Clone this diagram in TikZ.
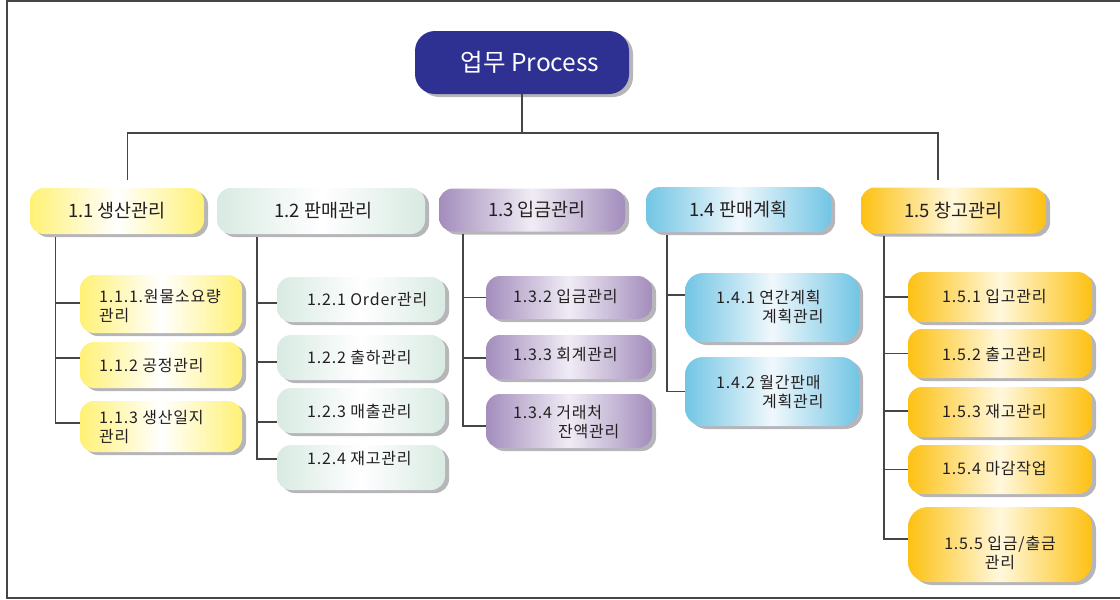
\documentclass[tikz,border=0pt]{standalone}
\usepackage{fontspec}
\setmainfont{Noto Sans CJK KR}
\newfontfamily\krtwo[LetterSpace=5]{Noto Sans CJK KR}
\usetikzlibrary{shadows}
\definecolor{rootblue}{HTML}{2E3192}
\definecolor{yel}{HTML}{FFF175}
\definecolor{grn}{HTML}{D8EAE2}
\definecolor{pur}{HTML}{A38DBC}
\definecolor{purmid}{HTML}{F0ECF5}
\definecolor{blu}{HTML}{72C5E4}
\definecolor{blumid}{HTML}{F0F8FC}
\definecolor{org}{HTML}{FDC113}
\definecolor{orgmid}{HTML}{FFF8DC}
\definecolor{shadowgray}{HTML}{B5B5BA}
\definecolor{linegray}{HTML}{454545}
\definecolor{txtc}{HTML}{231F20}
\tikzset{
  conn/.style={draw=linegray, line width=1.3pt},
  frameline/.style={draw=linegray, line width=1.5pt},
  boxbase/.style={rectangle, rounded corners=14pt, inner sep=0pt,
    drop shadow={shadow xshift=4pt, shadow yshift=-3pt, fill=shadowgray, opacity=1}},
  rootbox/.style={boxbase, rounded corners=20pt, fill=rootblue, text=white,
    font=\fontsize{24.5}{28}\selectfont, minimum width=214pt, minimum height=63pt},
  byel/.style={boxbase, left color=yel, right color=yel, middle color=white},
  bgrn/.style={boxbase, left color=grn, right color=grn, middle color=white},
  bpur/.style={boxbase, left color=pur, right color=pur, middle color=purmid},
  bblu/.style={boxbase, left color=blu, right color=blu, middle color=blumid},
  borg/.style={boxbase, left color=org, right color=org, middle color=orgmid},
  lvone/.style={font=\fontsize{18.5}{21}\selectfont, text=txtc, minimum height=46pt},
  lvtwo/.style={font=\krtwo\fontsize{16}{19}\selectfont, text=txtc, align=left, inner sep=0pt},
}
\begin{document}
\begin{tikzpicture}[x=1pt, y=-1pt]
\useasboundingbox (0,0) rectangle (1120,600);
% frame
\draw[frameline] (1121,1) -- (7,1) -- (7,598) -- (1121,598);

% root
\node[rootbox] (root) at (522,62.5) {\hspace*{16pt}업무 Process};

% level 1
\node[byel, lvone, minimum width=174pt] (n11) at (117,211) {1.1 생산관리};
\node[bgrn, lvone, minimum width=208pt] (n12) at (321,211) {\hspace*{5pt}1.2 판매관리};
\node[bpur, lvone, minimum width=186pt, minimum height=43pt] (n13) at (532,210) {\hspace*{10pt}1.3 입금관리};
\node[bblu, lvone, minimum width=185pt, minimum height=45pt] (n14) at (738.5,209.5) {1.4 판매계획};
\node[borg, lvone, minimum width=185pt] (n15) at (953.5,210.5) {1.5 창고관리};

% level 2 boxes
\node[byel, minimum width=162pt, minimum height=58pt] (n111) at (161,304) {};
\node[byel, minimum width=162pt, minimum height=46pt] (n112) at (161,365) {};
\node[byel, minimum width=162pt, minimum height=51pt] (n113) at (161,426.5) {};

\node[bgrn, minimum width=168pt, minimum height=45pt] (n121) at (361,299.5) {};
\node[bgrn, minimum width=168pt, minimum height=45pt] (n122) at (361,357.5) {};
\node[bgrn, minimum width=168pt, minimum height=45pt] (n123) at (361,410.5) {};
\node[bgrn, minimum width=168pt, minimum height=45pt] (n124) at (361,467.5) {};

\node[bpur, minimum width=166pt, minimum height=43pt] (n132) at (569,297.5) {};
\node[bpur, minimum width=166pt, minimum height=44pt] (n133) at (569,357) {};
\node[bpur, minimum width=166pt, minimum height=54pt] (n134) at (569,421) {};

\node[bblu, rounded corners=18pt, minimum width=174pt, minimum height=69pt] (n141) at (772,307.5) {};
\node[bblu, rounded corners=18pt, minimum width=174pt, minimum height=69pt] (n142) at (772,391.5) {};

\node[borg, minimum width=184pt, minimum height=50pt] (n151) at (1000,297) {};
\node[borg, minimum width=184pt, minimum height=49pt] (n152) at (1000,353.5) {};
\node[borg, minimum width=184pt, minimum height=50pt] (n153) at (1000,412) {};
\node[borg, minimum width=184pt, minimum height=49pt] (n154) at (1000,469.5) {};
\node[borg, rounded corners=20pt, minimum width=184pt, minimum height=75pt] (n155) at (1000,544.5) {};

% level 2 texts
\node[lvtwo, anchor=west] (t111) at (99,306) {1.1.1.원물소요량\\관리};
\node[lvtwo, anchor=west] (t112) at (99,366) {1.1.2 공정관리};
\node[lvtwo, anchor=west] (t113) at (99,427) {1.1.3 생산일지\\관리};

\node[lvtwo, anchor=west] (t121) at (307,300) {1.2.1 Order관리};
\node[lvtwo, anchor=west] (t122) at (307,357) {1.2.2 출하관리};
\node[lvtwo, anchor=west] (t123) at (307,411) {1.2.3 매출관리};
\node[lvtwo, anchor=west] (t124) at (307,459) {1.2.4 재고관리};

\node[lvtwo, anchor=west] (t132) at (513,297) {1.3.2 입금관리};
\node[lvtwo, anchor=west] (t133) at (513,355) {1.3.3 회계관리};
\node[lvtwo, anchor=west] (t134) at (513,422.5) {1.3.4 거래처\\\hspace*{45pt}잔액관리};

\node[lvtwo, anchor=west] (t141) at (716,306.5) {1.4.1 연간계획\\\hspace*{46pt}계획관리};
\node[lvtwo, anchor=west] (t142) at (716,392) {1.4.2 월간판매\\\hspace*{46pt}계획관리};

\node[lvtwo, anchor=west] (t151) at (942,297) {1.5.1 입고관리};
\node[lvtwo, anchor=west] (t152) at (942,354) {1.5.2 출고관리};
\node[lvtwo, anchor=west] (t153) at (942,412) {1.5.3 재고관리};
\node[lvtwo, anchor=west] (t154) at (942,469) {1.5.4 마감작업};
\node[lvtwo, align=center] (t155) at (1000,552.5) {1.5.5 입금/출금\\관리};

% top connectors
\coordinate (e11) at (127.5,180);
\coordinate (e15) at (938,180);
\coordinate (bR) at (938,133);
\draw[conn] (root.south) -- (root.south |- bR);
\draw[conn] (e11) |- (bR) -- (e15);

% trunks
\coordinate (s11) at (55.5,237);
\coordinate (s12) at (257,237);
\coordinate (s13) at (463,234);
\coordinate (s14) at (667,235);
\coordinate (s15) at (884,236);

\draw[conn] (s11) |- ([yshift=1pt]n111.west);
\draw[conn] (s11) |- ([yshift=7pt]n112.west);
\draw[conn] (s11) |- ([yshift=3.5pt]n113.west);

\draw[conn] (s12) |- ([yshift=-3.5pt]n121.west);
\draw[conn] (s12) |- ([yshift=-4.5pt]n122.west);
\draw[conn] (s12) |- ([yshift=-11.5pt]n123.west);
\draw[conn] (s12) |- ([yshift=8.5pt]n124.west);

\draw[conn] (s13) |- (n132.west);
\draw[conn] (s13) |- ([yshift=-1pt]n133.west);
\draw[conn] (s13) |- ([yshift=-5pt]n134.west);

\draw[conn] (s14) |- ([yshift=12.5pt]n141.west);
\draw[conn] (s14) |- (n142.west);

\draw[conn] (s15) |- (n151.west);
\draw[conn] (s15) |- (n152.west);
\draw[conn] (s15) |- ([yshift=1pt]n153.west);
\draw[conn] (s15) |- (n154.west);
\draw[conn] (s15) |- ([yshift=5.5pt]n155.west);
\end{tikzpicture}
\end{document}
